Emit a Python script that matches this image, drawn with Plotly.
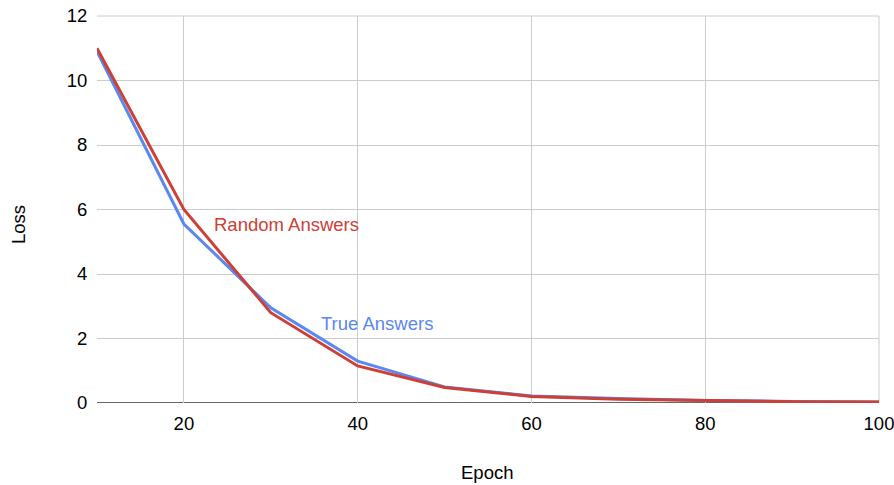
import plotly.graph_objects as go

epochs = [10, 20, 30, 40, 50, 60, 70, 80, 90, 100]
true_answers = [10.9, 5.55, 2.95, 1.3, 0.5, 0.22, 0.14, 0.08, 0.05, 0.03]
random_answers = [11.0, 6.0, 2.8, 1.15, 0.48, 0.2, 0.12, 0.07, 0.04, 0.03]

blue = "#5a87f0"
red = "#cc4036"
font = "Liberation Sans, Arial, sans-serif"
fs = 18.5

W, H = 894, 485
L, R, T, B = 97, 894 - 879, 16, 485 - 403
PW, PH = W - L - R, H - T - B

fig = go.Figure()
fig.add_trace(go.Scatter(x=epochs, y=true_answers, mode="lines", name="True Answers",
                         line=dict(color=blue, width=3)))
fig.add_trace(go.Scatter(x=epochs, y=random_answers, mode="lines", name="Random Answers",
                         line=dict(color=red, width=3)))

fig.add_annotation(x=23.2, y=5.52, text="Random Answers", showarrow=False, xanchor="left",
                   yanchor="middle", font=dict(color=red, size=fs, family=font))
fig.add_annotation(x=35.5, y=2.48, text="True Answers", showarrow=False, xanchor="left",
                   yanchor="middle", font=dict(color=blue, size=fs, family=font))

# axis titles
fig.add_annotation(xref="paper", yref="paper", x=(487 - L) / PW, y=-(472 - 403) / PH,
                   text="Epoch", showarrow=False, xanchor="center", yanchor="middle",
                   font=dict(size=fs, family=font, color="#000"))
fig.add_annotation(xref="paper", yref="paper", x=-(L - 18) / PW, y=(403 - 225) / PH,
                   text="Loss", showarrow=False, xanchor="center", yanchor="middle", textangle=-90,
                   font=dict(size=fs, family=font, color="#000"))

fig.update_layout(
    width=W, height=H,
    margin=dict(l=L, r=R, t=T, b=B),
    plot_bgcolor="white", paper_bgcolor="white",
    showlegend=False,
    font=dict(family=font, size=fs, color="#000"),
)
fig.update_xaxes(range=[10, 100], tickvals=[20, 40, 60, 80, 100], showgrid=True,
                 gridcolor="#cccccc", gridwidth=1, zeroline=False, showline=False,
                 ticks="outside", ticklen=4, tickcolor="rgba(0,0,0,0)", automargin=False,
                 ticklabeloverflow="allow")
fig.update_yaxes(range=[0, 12], tickvals=[0, 2, 4, 6, 8, 10, 12], showgrid=True,
                 gridcolor="#cccccc", gridwidth=1, zeroline=False, showline=False,
                 ticks="outside", ticklen=5, tickcolor="rgba(0,0,0,0)", automargin=False,
                 ticklabeloverflow="allow")
# gridlines at the plot edges (top y=12 and right x=100)
fig.add_shape(type="line", xref="paper", yref="paper", x0=0, x1=1, y0=1, y1=1,
              line=dict(color="#cccccc", width=1), layer="below")
fig.add_shape(type="line", xref="paper", yref="paper", x0=1, x1=1, y0=0, y1=1,
              line=dict(color="#cccccc", width=1), layer="below")
# dark baseline at y=0
fig.add_shape(type="line", xref="paper", yref="y", x0=0, x1=1, y0=0, y1=0,
              line=dict(color="#333333", width=1.5), layer="below")

fig.write_html("out.html", config={"displayModeBar": False},
               post_script="document.body.style.margin='0';document.body.style.overflow='hidden';")
